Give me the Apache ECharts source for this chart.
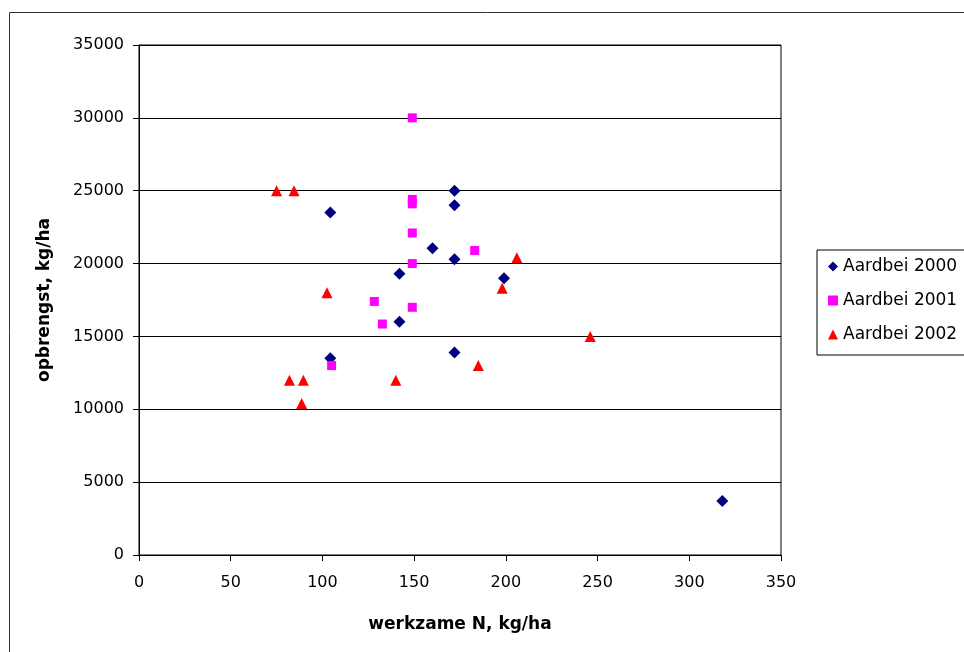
<!DOCTYPE html>
<html>
<head>
<meta charset="utf-8">
<script src="https://cdn.jsdelivr.net/npm/echarts@6/dist/echarts.min.js"></script>
<style>
html,body{margin:0;padding:0;background:#fff;}
#chart{width:964px;height:652px;}
</style>
</head>
<body>
<div id="chart"></div>
<script>
// Data
const seriesNames = ['Aardbei 2000', 'Aardbei 2001', 'Aardbei 2002'];
const xTicks = [0, 50, 100, 150, 200, 250, 300, 350];
const yTicks = [0, 5000, 10000, 15000, 20000, 25000, 30000, 35000];

const x2000 = [104.3, 172, 172, 160, 172, 142, 199, 142, 172, 104.3, 318];
const y2000 = [23500, 25000, 24000, 21050, 20300, 19300, 19000, 16000, 13900, 13500, 3700];

const x2001 = [149, 149, 149, 149, 183, 149, 128.3, 149, 132.7, 105];
const y2001 = [30000, 24400, 24100, 22100, 20900, 20000, 17400, 17000, 15850, 13000];

const x2002 = [75, 84.5, 206, 198, 102.5, 185, 82, 89.6, 140, 88.7, 246];
const y2002 = [25000, 25000, 20400, 18300, 18000, 13000, 12000, 12000, 12000, 10400, 15000];

const pairs = (xs, ys) => xs.map((x, i) => [x, ys[i]]);

const chart = echarts.init(document.getElementById('chart'));
const font = 'DejaVu Sans';
chart.setOption({
  backgroundColor: '#ffffff',
  animation: false,
  graphic: [{
    type: 'rect',
    shape: { x: 9.5, y: 12.5, width: 1000, height: 700 },
    style: { fill: 'none', stroke: '#333', lineWidth: 1 },
    silent: true
  }],
  grid: {
    left: 139, right: 183, top: 45, bottom: 97,
    show: true, borderColor: '#000', borderWidth: 1, backgroundColor: 'transparent'
  },
  legend: {
    orient: 'vertical',
    left: 817, top: 250,
    padding: [8, 40, 12, 11],
    itemGap: 17,
    itemWidth: 10, itemHeight: 10,
    borderColor: '#000', borderWidth: 1,
    textStyle: { fontFamily: font, fontSize: 17, color: '#000', lineHeight: 17 },
    data: [
      { name: seriesNames[0], icon: 'diamond', itemStyle: { color: '#000080' } },
      { name: seriesNames[1], icon: 'rect', itemStyle: { color: '#ff00ff' } },
      { name: seriesNames[2], icon: 'triangle', itemStyle: { color: '#ff0000' } }
    ]
  },
  xAxis: {
    type: 'value', min: xTicks[0], max: xTicks[xTicks.length - 1], interval: 50,
    name: 'werkzame N, kg/ha', nameLocation: 'middle', nameGap: 61,
    nameTextStyle: { fontFamily: font, fontSize: 17, fontWeight: 'bold', color: '#000' },
    axisLine: { show: true, onZero: false, lineStyle: { color: '#000', width: 1 } },
    axisTick: { show: true, inside: false, length: 6, lineStyle: { color: '#000' } },
    axisLabel: { fontFamily: font, fontSize: 16, color: '#000', margin: 20,
      formatter: v => String(v) },
    splitLine: { show: false }
  },
  yAxis: {
    type: 'value', min: yTicks[0], max: yTicks[yTicks.length - 1], interval: 5000,
    name: 'opbrengst, kg/ha', nameLocation: 'middle', nameGap: 86,
    nameTextStyle: { fontFamily: font, fontSize: 17, fontWeight: 'bold', color: '#000' },
    axisLine: { show: true, onZero: false, lineStyle: { color: '#000', width: 1 } },
    axisTick: { show: true, inside: false, length: 6, lineStyle: { color: '#000' } },
    axisLabel: { fontFamily: font, fontSize: 16, color: '#000', margin: 15,
      formatter: v => String(v) },
    splitLine: { show: true, lineStyle: { color: '#000', width: 1 } }
  },
  series: [
    { name: seriesNames[0], type: 'scatter', symbol: 'diamond', symbolSize: 12,
      itemStyle: { color: '#000080', opacity: 1 }, data: pairs(x2000, y2000) },
    { name: seriesNames[1], type: 'scatter', symbol: 'rect', symbolSize: 9,
      itemStyle: { color: '#ff00ff', opacity: 1 }, data: pairs(x2001, y2001) },
    { name: seriesNames[2], type: 'scatter', symbol: 'triangle', symbolSize: 11,
      itemStyle: { color: '#ff0000', opacity: 1 }, data: pairs(x2002, y2002) }
  ]
});
</script>
</body>
</html>
